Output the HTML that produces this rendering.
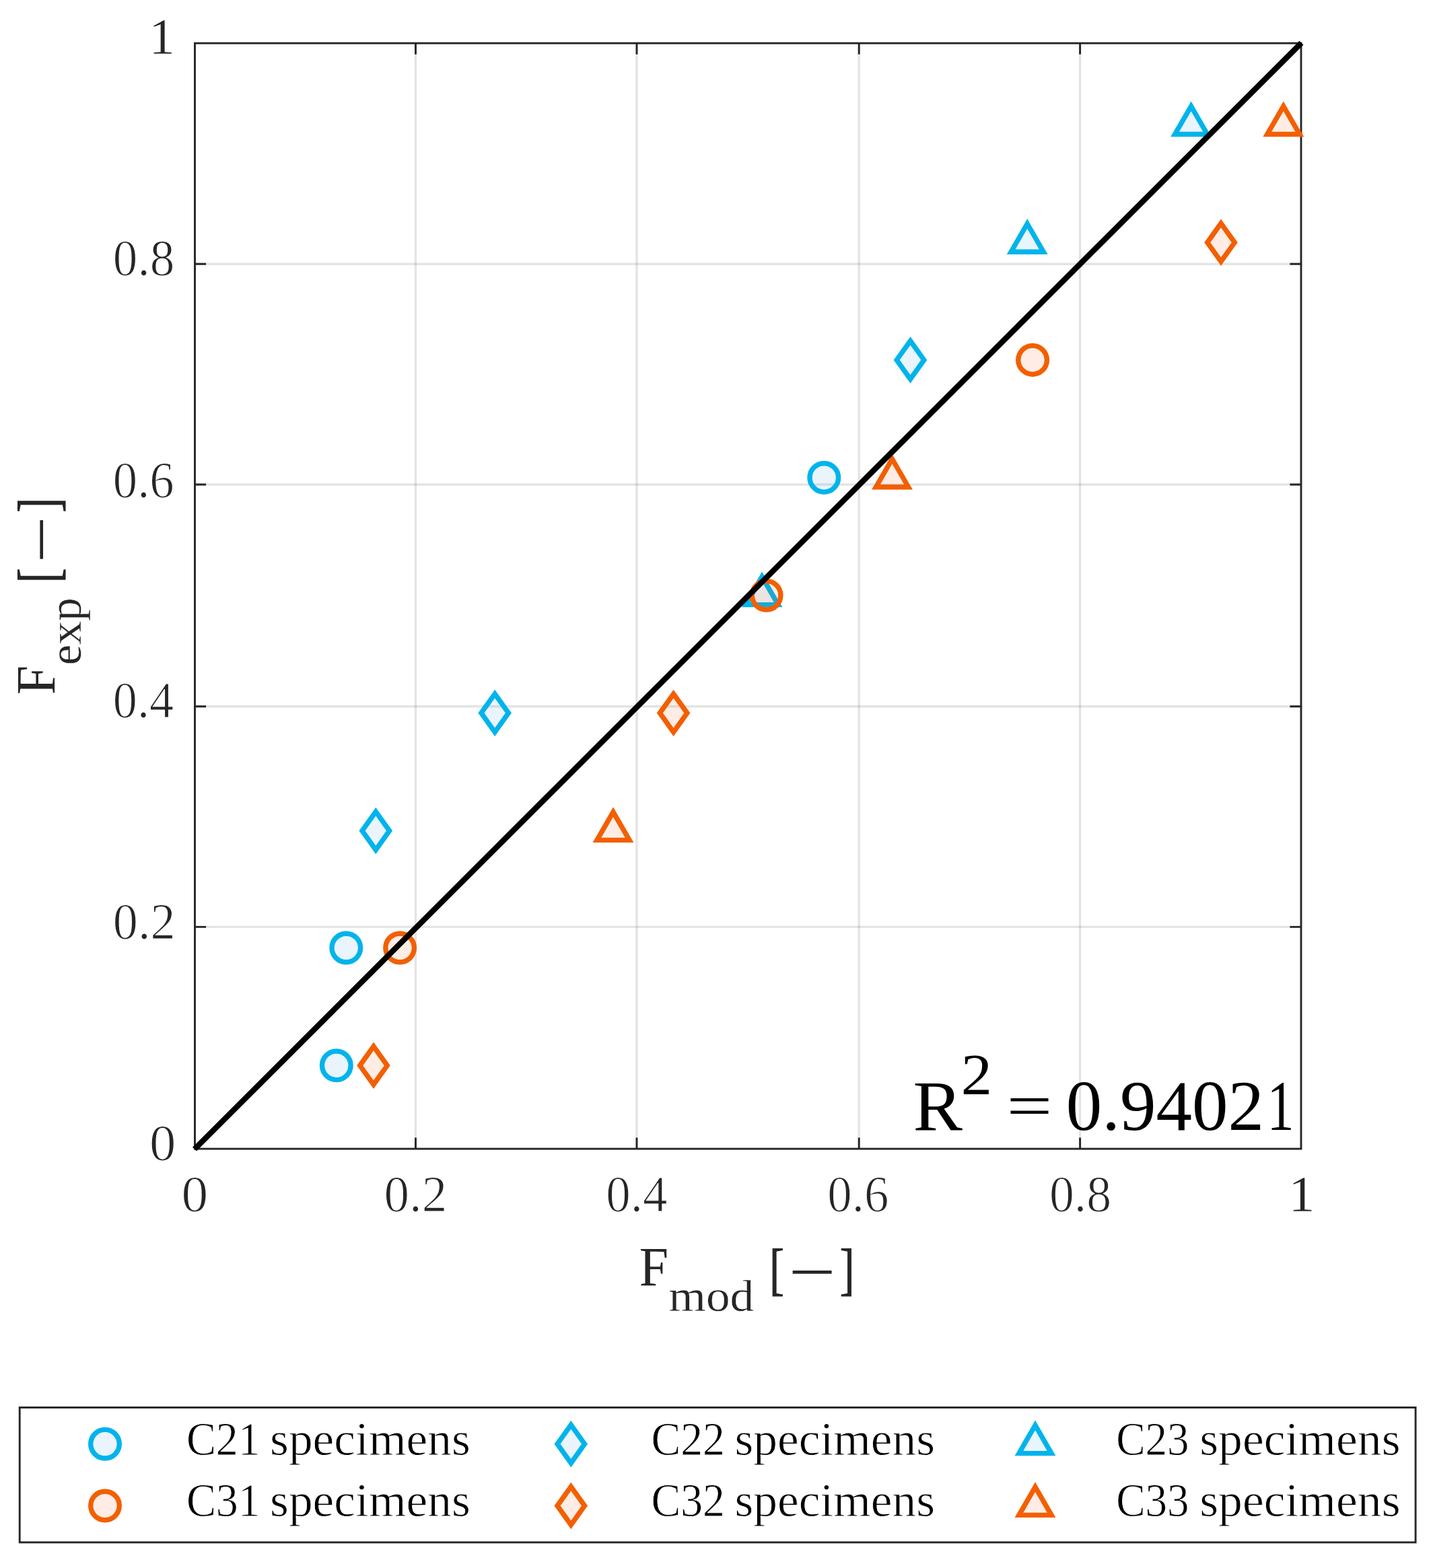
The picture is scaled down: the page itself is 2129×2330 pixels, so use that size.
<!DOCTYPE html>
<html lang="en">
<head>
<meta charset="utf-8">
<title>F_exp vs F_mod</title>
<style>
html,body{margin:0;padding:0;background:#fff;}
body{width:2129px;height:2330px;overflow:hidden;}
svg{display:block;font-family:'Liberation Serif', serif;}
text{font-family:"Liberation Serif",serif;white-space:pre;}
</style>
</head>
<body>
<svg xmlns="http://www.w3.org/2000/svg" width="2129" height="2330" viewBox="0 0 2129 2330">
<rect width="2129" height="2330" fill="#fff"/>
<path d="M617.50 64.20V1707.10M946.00 64.20V1707.10M1276.20 64.20V1707.10M1604.60 64.20V1707.10" stroke="#262626" stroke-opacity="0.125" stroke-width="3.4" fill="none"/>
<path d="M289.50 1377.40H1933.00M289.50 1049.70H1933.00M289.50 720.00H1933.00M289.50 392.30H1933.00" stroke="#262626" stroke-opacity="0.125" stroke-width="3.4" fill="none"/>
<path d="M617.50 1707.10v-16.6M617.50 64.20v16.6M289.50 1377.40h16.6M1933.00 1377.40h-16.6M946.00 1707.10v-16.6M946.00 64.20v16.6M289.50 1049.70h16.6M1933.00 1049.70h-16.6M1276.20 1707.10v-16.6M1276.20 64.20v16.6M289.50 720.00h16.6M1933.00 720.00h-16.6M1604.60 1707.10v-16.6M1604.60 64.20v16.6M289.50 392.30h16.6M1933.00 392.30h-16.6" stroke="#262626" stroke-width="2.9" fill="none"/>
<rect x="289.50" y="64.20" width="1643.50" height="1642.90" stroke="#262626" stroke-width="2.9" fill="none"/>
<circle cx="499.80" cy="1583.30" r="21.3" fill="#2d96eb" fill-opacity="0.1" stroke="#00b4eb" stroke-width="7.4"/>
<circle cx="514.30" cy="1408.50" r="21.3" fill="#2d96eb" fill-opacity="0.1" stroke="#00b4eb" stroke-width="7.4"/>
<circle cx="1224.30" cy="709.80" r="21.3" fill="#2d96eb" fill-opacity="0.1" stroke="#00b4eb" stroke-width="7.4"/>
<polygon points="558.30,1206.10 578.60,1234.50 558.30,1262.90 538.00,1234.50" fill="#2d96eb" fill-opacity="0.1" stroke="#00b4eb" stroke-width="7.4" stroke-linejoin="miter"/>
<polygon points="735.20,1031.10 755.50,1059.50 735.20,1087.90 714.90,1059.50" fill="#2d96eb" fill-opacity="0.1" stroke="#00b4eb" stroke-width="7.4" stroke-linejoin="miter"/>
<polygon points="1352.50,506.50 1372.80,534.90 1352.50,563.30 1332.20,534.90" fill="#2d96eb" fill-opacity="0.1" stroke="#00b4eb" stroke-width="7.4" stroke-linejoin="miter"/>
<polygon points="1132.10,856.90 1156.18,898.60 1108.02,898.60" fill="#2d96eb" fill-opacity="0.1" stroke="#00b4eb" stroke-width="7.4" stroke-linejoin="miter"/>
<polygon points="1526.20,332.50 1550.28,374.20 1502.12,374.20" fill="#2d96eb" fill-opacity="0.1" stroke="#00b4eb" stroke-width="7.4" stroke-linejoin="miter"/>
<polygon points="1769.60,157.80 1793.68,199.50 1745.52,199.50" fill="#2d96eb" fill-opacity="0.1" stroke="#00b4eb" stroke-width="7.4" stroke-linejoin="miter"/>
<circle cx="594.10" cy="1408.50" r="21.3" fill="#ff5000" fill-opacity="0.1" stroke="#f35f00" stroke-width="7.4"/>
<circle cx="1138.60" cy="884.70" r="21.3" fill="#ff5000" fill-opacity="0.1" stroke="#f35f00" stroke-width="7.4"/>
<circle cx="1534.10" cy="534.90" r="21.3" fill="#ff5000" fill-opacity="0.1" stroke="#f35f00" stroke-width="7.4"/>
<polygon points="555.00,1554.90 575.30,1583.30 555.00,1611.70 534.70,1583.30" fill="#ff5000" fill-opacity="0.1" stroke="#f35f00" stroke-width="7.4" stroke-linejoin="miter"/>
<polygon points="1000.60,1031.10 1020.90,1059.50 1000.60,1087.90 980.30,1059.50" fill="#ff5000" fill-opacity="0.1" stroke="#f35f00" stroke-width="7.4" stroke-linejoin="miter"/>
<polygon points="1814.00,331.90 1834.30,360.30 1814.00,388.70 1793.70,360.30" fill="#ff5000" fill-opacity="0.1" stroke="#f35f00" stroke-width="7.4" stroke-linejoin="miter"/>
<polygon points="911.00,1206.70 935.08,1248.40 886.92,1248.40" fill="#ff5000" fill-opacity="0.1" stroke="#f35f00" stroke-width="7.4" stroke-linejoin="miter"/>
<polygon points="1325.50,682.00 1349.58,723.70 1301.42,723.70" fill="#ff5000" fill-opacity="0.1" stroke="#f35f00" stroke-width="7.4" stroke-linejoin="miter"/>
<polygon points="1906.80,157.80 1930.88,199.50 1882.72,199.50" fill="#ff5000" fill-opacity="0.1" stroke="#f35f00" stroke-width="7.4" stroke-linejoin="miter"/>
<path d="M289.00 1707.60L1933.50 63.70" stroke="#000" stroke-width="8.4" fill="none" stroke-linecap="butt"/>
<text transform="matrix(0.7877 0 0 0.7674 222.01 1724.40)" font-size="100" fill="#262626" stroke="#fff" stroke-width="1.543" stroke-linejoin="miter">0</text>
<text transform="matrix(0.7424 0 0 0.7674 167.78 1395.40)" font-size="100" fill="#262626" stroke="#fff" stroke-width="1.590" stroke-linejoin="miter">0.2</text>
<text transform="matrix(0.7216 0 0 0.7674 167.86 1065.90)" font-size="100" fill="#262626" stroke="#fff" stroke-width="1.612" stroke-linejoin="miter">0.4</text>
<text transform="matrix(0.7267 0 0 0.7674 167.84 739.00)" font-size="100" fill="#262626" stroke="#fff" stroke-width="1.606" stroke-linejoin="miter">0.6</text>
<text transform="matrix(0.7317 0 0 0.7674 167.82 409.10)" font-size="100" fill="#262626" stroke="#fff" stroke-width="1.601" stroke-linejoin="miter">0.8</text>
<text transform="matrix(0.7642 0 0 0.7538 221.53 79.95)" font-size="100" fill="#262626" stroke="#fff" stroke-width="0.395" stroke-linejoin="miter">1</text>
<text transform="matrix(0.7948 0 0 0.7674 269.58 1800.10)" font-size="100" fill="#262626" stroke="#fff" stroke-width="1.536" stroke-linejoin="miter">0</text>
<text transform="matrix(0.7511 0 0 0.7674 570.55 1800.10)" font-size="100" fill="#262626" stroke="#fff" stroke-width="1.581" stroke-linejoin="miter">0.2</text>
<text transform="matrix(0.7308 0 0 0.7674 900.22 1800.10)" font-size="100" fill="#262626" stroke="#fff" stroke-width="1.602" stroke-linejoin="miter">0.4</text>
<text transform="matrix(0.7284 0 0 0.7674 1229.33 1800.10)" font-size="100" fill="#262626" stroke="#fff" stroke-width="1.604" stroke-linejoin="miter">0.6</text>
<text transform="matrix(0.7385 0 0 0.7674 1558.89 1800.10)" font-size="100" fill="#262626" stroke="#fff" stroke-width="1.594" stroke-linejoin="miter">0.8</text>
<text transform="matrix(0.7813 0 0 0.7538 1914.38 1799.65)" font-size="100" fill="#262626" stroke="#fff" stroke-width="0.391" stroke-linejoin="miter">1</text>
<text transform="matrix(0.7780 0 0 0.8305 949.74 1909.90)" font-size="100" fill="#262626">F</text>
<text transform="matrix(0.7117 0 0 0.6657 993.61 1948.00)" font-size="100" fill="#262626" stroke="#fff" stroke-width="0.581" stroke-linejoin="miter">mod</text>
<text transform="matrix(0.6502 0 0 0.8430 1143.19 1915.00)" font-size="100" fill="#262626" stroke="#262626" stroke-width="1.339" stroke-linejoin="miter">[</text>
<text transform="matrix(1.2452 0 0 0.9200 1171.67 1921.14)" font-size="100" fill="#262626">−</text>
<text transform="matrix(0.6502 0 0 0.8430 1247.86 1915.00)" font-size="100" fill="#262626" stroke="#262626" stroke-width="1.339" stroke-linejoin="miter">]</text>
<text transform="rotate(-90) matrix(0.7800 0 0 0.8321 -1032.26 81.30)" font-size="100" fill="#262626">F</text>
<text transform="rotate(-90) matrix(0.6955 0 0 0.6688 -988.51 119.50)" font-size="100" fill="#262626" stroke="#fff" stroke-width="0.586" stroke-linejoin="miter">exp</text>
<text transform="rotate(-90) matrix(0.6502 0 0 0.8490 -866.11 86.12)" font-size="100" fill="#262626" stroke="#262626" stroke-width="1.334" stroke-linejoin="miter">[</text>
<text transform="rotate(-90) matrix(1.2366 0 0 0.9400 -837.08 93.06)" font-size="100" fill="#262626">−</text>
<text transform="rotate(-90) matrix(0.6457 0 0 0.8490 -761.52 86.12)" font-size="100" fill="#262626" stroke="#262626" stroke-width="1.338" stroke-linejoin="miter">]</text>
<text transform="matrix(1.1020 0 0 1.0595 1356.60 1679.00)" font-size="100" fill="#000">R</text>
<text transform="matrix(0.9252 0 0 0.8701 1427.83 1626.40)" font-size="100" fill="#000">2</text>
<text transform="matrix(1.2043 0 0 0.9000 1495.58 1674.23)" font-size="100" fill="#000">=</text>
<text y="1679.30" font-size="106.34" fill="#000"><tspan x="1583.73" textLength="294.35" lengthAdjust="spacingAndGlyphs">0.9402</tspan><tspan x="1882.52" textLength="40.20" lengthAdjust="spacingAndGlyphs">1</tspan></text>
<rect x="29.2" y="2091.5" width="2073.9" height="200.4000000000001" stroke="#262626" stroke-width="2.9" fill="#fff"/>
<circle cx="156.00" cy="2145.70" r="21.3" fill="#2d96eb" fill-opacity="0.1" stroke="#00b4eb" stroke-width="7.4"/>
<circle cx="156.00" cy="2237.50" r="21.3" fill="#ff5000" fill-opacity="0.1" stroke="#f35f00" stroke-width="7.4"/>
<polygon points="848.30,2117.30 868.60,2145.70 848.30,2174.10 828.00,2145.70" fill="#2d96eb" fill-opacity="0.1" stroke="#00b4eb" stroke-width="7.4" stroke-linejoin="miter"/>
<polygon points="848.30,2209.10 868.60,2237.50 848.30,2265.90 828.00,2237.50" fill="#ff5000" fill-opacity="0.1" stroke="#f35f00" stroke-width="7.4" stroke-linejoin="miter"/>
<polygon points="1538.00,2117.90 1562.08,2159.60 1513.92,2159.60" fill="#2d96eb" fill-opacity="0.1" stroke="#00b4eb" stroke-width="7.4" stroke-linejoin="miter"/>
<polygon points="1538.00,2209.70 1562.08,2251.40 1513.92,2251.40" fill="#ff5000" fill-opacity="0.1" stroke="#f35f00" stroke-width="7.4" stroke-linejoin="miter"/>
<text y="2161.60" font-size="69.18" fill="#000" stroke="#fff" stroke-width="0.800" stroke-linejoin="round"><tspan x="276.90" textLength="109.86" lengthAdjust="spacingAndGlyphs">C21</tspan> <tspan x="401.07" textLength="297.74" lengthAdjust="spacingAndGlyphs">specimens</tspan></text>
<text y="2252.80" font-size="69.18" fill="#000" stroke="#fff" stroke-width="0.800" stroke-linejoin="round"><tspan x="276.90" textLength="109.86" lengthAdjust="spacingAndGlyphs">C31</tspan> <tspan x="401.07" textLength="297.74" lengthAdjust="spacingAndGlyphs">specimens</tspan></text>
<text y="2161.60" font-size="69.18" fill="#000" stroke="#fff" stroke-width="0.800" stroke-linejoin="round"><tspan x="967.41" textLength="109.51" lengthAdjust="spacingAndGlyphs">C22</tspan> <tspan x="1091.57" textLength="297.43" lengthAdjust="spacingAndGlyphs">specimens</tspan></text>
<text y="2252.80" font-size="69.18" fill="#000" stroke="#fff" stroke-width="0.800" stroke-linejoin="round"><tspan x="967.41" textLength="109.51" lengthAdjust="spacingAndGlyphs">C32</tspan> <tspan x="1091.57" textLength="297.43" lengthAdjust="spacingAndGlyphs">specimens</tspan></text>
<text y="2161.60" font-size="69.18" fill="#000" stroke="#fff" stroke-width="0.800" stroke-linejoin="round"><tspan x="1658.13" textLength="108.40" lengthAdjust="spacingAndGlyphs">C23</tspan> <tspan x="1782.26" textLength="298.25" lengthAdjust="spacingAndGlyphs">specimens</tspan></text>
<text y="2252.80" font-size="69.18" fill="#000" stroke="#fff" stroke-width="0.800" stroke-linejoin="round"><tspan x="1658.13" textLength="108.40" lengthAdjust="spacingAndGlyphs">C33</tspan> <tspan x="1782.26" textLength="298.25" lengthAdjust="spacingAndGlyphs">specimens</tspan></text>
</svg>
</body>
</html>
